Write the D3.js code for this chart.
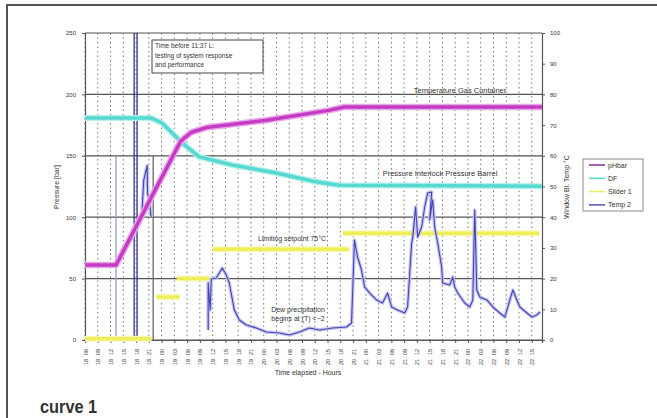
<!DOCTYPE html>
<html>
<head>
<meta charset="utf-8">
<script src="https://cdn.jsdelivr.net/npm/d3@7"></script>
<style>
  body { margin: 0; background: #fff; }
  svg { display: block; }
  text { font-family: "Liberation Sans", Arial, sans-serif; fill: #333; }
</style>
</head>
<body>
<script>
// ---- data (x = time index along the axis, y = left axis units) ----
const tickHour = ['06','09','12','15','18','21','00','03','06','09','12','15','18','21','00','03','06','09',
                  '12','15','18','21','00','03','06','09','12','15','18','21','00','03','06','09','12','15'];
const tickDay  = ['18','18','18','18','18','18','19','19','19','19','19','19','19','19','20','20','20','20',
                  '20','20','20','20','21','21','21','21','21','21','21','21','22','22','22','22','22','22'];
const leftTicks = [0, 50, 100, 150, 200, 250];
const rightTicks = [0, 10, 20, 30, 40, 50, 60, 70, 80, 90, 100];
const seriesNames = ['pHbar', 'DF', 'Slider 1', 'Temp 2'];

const gasTemp = [[0, 61], [2.43, 61], [7.5, 162], [8.3, 169], [9.5, 173], [14.2, 179], [19.1, 187], [20.3, 189.7], [35.8, 189.7]];
const pressure = [[0, 180.8], [5.18, 180.8], [6.04, 176.7], [6.83, 168.6], [7.61, 160.5], [8.95, 149.1],
                  [11.54, 142.5], [14.99, 136], [18.0, 129], [19.9, 126], [35.8, 125.2]];
const slider = [[0, 1], [5.2, 1], null, [5.6, 35], [7.4, 35], null, [7.2, 50], [9.75, 50], null,
                [10.0, 74], [20.7, 74], null, [20.2, 87], [35.6, 87]];
const temp2 = [[4.47, 105], [4.6, 130], [4.87, 142], [4.9, 120], [5.05, 112], [5.18, 100], null,
  [9.65, 8.1], [9.65, 46.4], [9.81, 24.4], [9.89, 49.7], [10.28, 50.5], [10.75, 58.6], [11.07, 52.9],
  [11.3, 46.4], [11.7, 24.4], [12.09, 16.3], [12.64, 12.2], [13.42, 9.8], [14.21, 6.5], [15.23, 5.7],
  [16.01, 4.1], [16.8, 6.5], [17.58, 9.8], [18.37, 8.1], [19.39, 9.8], [20.49, 10.6], [20.88, 13.8],
  [21.11, 81.4], [21.35, 67.6], [21.66, 57], [21.9, 43.2], [22.29, 38.3], [22.84, 32.6], [23.31, 30.1],
  [23.7, 38.3], [24.02, 26.9], [24.49, 24.4], [25.04, 22], [25.27, 26.9], [25.59, 79], [25.67, 83.1],
  [25.9, 108.3], [26.06, 83.9], [26.37, 92], [26.61, 108.3], [26.84, 119.7], [27.16, 120.5], [27.0, 97.7],
  [27.24, 114], [27.39, 92], [27.63, 79], [27.94, 59.4], [28.02, 46.4], [28.57, 44.8], [28.81, 51.3],
  [28.96, 43.2], [29.2, 38.3], [29.75, 30.1], [30.14, 26.9], [30.38, 32.6], [30.53, 105.9], [30.69, 40.7],
  [30.93, 35], [31.48, 32.6], [31.95, 26.9], [32.5, 22], [32.89, 18.7], [33.28, 32.6], [33.52, 40.7],
  [33.83, 32.6], [34.07, 26.9], [34.62, 22], [35.01, 18.7], [35.4, 20.4], [35.64, 22.8]];
// vertical event marks: [x, from, to, colour]
const events = [[2.43, 0, 150, '#9a9ac4'], [3.85, 0, 250, '#30308a'], [4.08, 0, 250, '#30308a'], [5.34, 0, 150, '#6a6a6a']];

const width = 657, height = 418;
const svg = d3.select('body').append('svg').attr('width', width).attr('height', height);

// outer frame (left + top only)
svg.append('path').attr('d', 'M7,418 V5 H657').attr('fill', 'none').attr('stroke', '#555').attr('stroke-width', 2);

const x = d3.scaleLinear().domain([0, 35.8]).range([85, 542]);
const yL = d3.scaleLinear().domain([0, 250]).range([340, 33]);
const yR = d3.scaleLinear().domain([0, 100]).range([340, 33]);

// vertical dotted grid
svg.append('g').selectAll('line').data(d3.range(tickHour.length)).join('line')
  .attr('x1', d => x(d)).attr('x2', d => x(d)).attr('y1', 33).attr('y2', 340)
  .attr('stroke', '#777').attr('stroke-dasharray', '1.5,3');

// horizontal major grid
svg.append('g').selectAll('line').data(leftTicks).join('line')
  .attr('x1', 85).attr('x2', 542).attr('y1', d => yL(d)).attr('y2', d => yL(d))
  .attr('stroke', '#555').attr('stroke-width', 1.2);

// axes
const styleAxis = g => {
  g.selectAll('.domain').attr('stroke', '#555').attr('stroke-width', 1.2);
  g.selectAll('.tick line').attr('stroke', '#555');
  g.selectAll('.tick text').attr('font-size', 6).attr('fill', '#444');
};
svg.append('g').attr('transform', 'translate(85,0)')
  .call(d3.axisLeft(yL).tickValues(leftTicks).tickSize(3).tickPadding(6)).call(styleAxis);
svg.append('g').attr('transform', 'translate(542,0)')
  .call(d3.axisRight(yR).tickValues(rightTicks).tickSize(3).tickPadding(5)).call(styleAxis);
const xAxis = svg.append('g').attr('transform', 'translate(0,340)')
  .call(d3.axisBottom(x).tickValues(d3.range(tickHour.length)).tickSize(3).tickFormat(''));
xAxis.call(styleAxis);
xAxis.selectAll('.tick text').remove();
xAxis.selectAll('.tick').each(function (d) {
  const t = d3.select(this);
  t.append('text').attr('transform', 'translate(2,12) rotate(-90)').attr('text-anchor', 'middle')
    .attr('font-size', 5.5).attr('fill', '#555').text(tickHour[d]);
  t.append('text').attr('transform', 'translate(2,22) rotate(-90)').attr('text-anchor', 'middle')
    .attr('font-size', 5.5).attr('fill', '#555').text(tickDay[d]);
});

// series
const line = d3.line().defined(d => d).x(d => x(d[0])).y(d => yL(d[1]));
const drawSeries = (data, halo, haloW, core, coreW) => {
  svg.append('path').datum(data).attr('d', line).attr('fill', 'none')
    .attr('stroke', halo).attr('stroke-width', haloW).attr('stroke-linejoin', 'round');
  svg.append('path').datum(data).attr('d', line).attr('fill', 'none')
    .attr('stroke', core).attr('stroke-width', coreW).attr('stroke-linejoin', 'round');
};

svg.append('g').selectAll('line').data(events).join('line')
  .attr('x1', d => x(d[0])).attr('x2', d => x(d[0]))
  .attr('y1', d => yL(d[1])).attr('y2', d => yL(d[2]))
  .attr('stroke', d => d[3]).attr('stroke-width', 1.3);

drawSeries(slider, '#f8f8b8', 6, '#eeee5a', 3.5);
drawSeries(pressure, '#b4f0ec', 6, '#55d9d0', 3.5);
drawSeries(temp2, '#c4c4f0', 3.5, '#4444b8', 1.1);
drawSeries(gasTemp, '#eaa8ea', 6.5, '#c43cc4', 3.5);

// annotations
const note = (tx, ty, s, fs, anchor) => svg.append('text').attr('x', tx).attr('y', ty)
  .attr('font-size', fs).attr('text-anchor', anchor || 'start').attr('fill', '#333').text(s);
note(460, 93, 'Temperature Gas Container', 7.5, 'middle');
note(440, 176, 'Pressure Interlock Pressure Barrel', 7.5, 'middle');
note(292, 241, 'Limiting setpoint 75°C', 7, 'middle');
note(298, 312, 'Dew precipitation', 7, 'middle');
note(298, 321, 'begins at (T) <~2', 7, 'middle');

svg.append('rect').attr('x', 152).attr('y', 40).attr('width', 111).attr('height', 33)
  .attr('fill', '#fff').attr('stroke', '#444').attr('stroke-width', 1);
note(155, 48, 'Time before 11:37 L:', 6.5);
note(155, 58, 'testing of system response', 6.5);
note(155, 67, 'and performance', 6.5);

// axis titles
svg.append('text').attr('transform', 'translate(59,187) rotate(-90)').attr('text-anchor', 'middle')
  .attr('font-size', 7).text('Pressure  [bar]');
svg.append('text').attr('transform', 'translate(569,187) rotate(-90)').attr('text-anchor', 'middle')
  .attr('font-size', 7).text('Window Bl. Temp °C');
note(308, 375, 'Time elapsed - Hours', 7, 'middle');

// legend
const legend = svg.append('g');
legend.append('rect').attr('x', 583).attr('y', 159).attr('width', 60).attr('height', 52)
  .attr('fill', '#fff').attr('stroke', '#888');
const legendColors = ['#8a2a9a', '#55d9d0', '#eeee5a', '#5050c0'];
legend.selectAll('g').data(seriesNames).join('g')
  .attr('transform', (d, i) => `translate(589,${165 + i * 13.3})`)
  .each(function (d, i) {
    const g = d3.select(this);
    g.append('line').attr('x1', 0).attr('x2', 16).attr('stroke', legendColors[i]).attr('stroke-width', 1.5);
    g.append('text').attr('x', 19).attr('y', 2.5).attr('font-size', 7).text(d);
  });

// caption
svg.append('text').attr('x', 40).attr('y', 413).attr('font-size', 19).attr('font-weight', 'bold')
  .attr('font-family', '"Liberation Sans Narrow", "Liberation Sans", sans-serif')
  .attr('fill', '#111').attr('transform', 'translate(40,0) scale(0.86,1) translate(-40,0)')
  .text('curve 1');
</script>
</body>
</html>
